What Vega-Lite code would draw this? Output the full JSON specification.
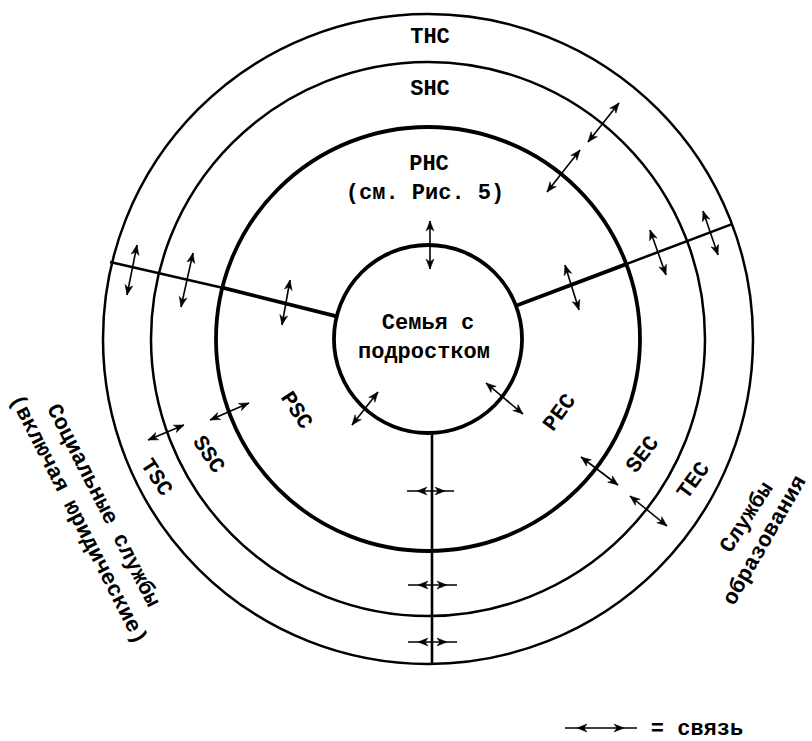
{
  "$schema": "https://vega.github.io/schema/vega-lite/v6.json",
  "width": 812,
  "height": 741,
  "padding": 0,
  "autosize": {"type": "none"},
  "background": "white",
  "config": {"view": {"stroke": null}},
  "datasets": {
    "rings": [
      {"ring": "family", "r": 94},
      {"ring": "PHC", "r": 212},
      {"ring": "SHC", "r": 277},
      {"ring": "THC", "r": 325}
    ],
    "lines": [
      {"segment": "left-inner", "x1": -91.2, "y1": 22.7, "x2": -205.7, "y2": 51.3},
      {"segment": "left-outer", "x1": -205.7, "y1": 51.3, "x2": -318, "y2": 77},
      {"segment": "right-inner", "x1": 87.9, "y1": 33.2, "x2": 198.3, "y2": 74.9},
      {"segment": "right-outer", "x1": 198.3, "y1": 74.9, "x2": 304, "y2": 114.9},
      {"segment": "bottom", "x1": 4, "y1": -93, "x2": 4, "y2": -325}
    ],
    "arrows": [
      {"id": 1, "x1": 2, "y1": 118, "x2": 2, "y2": 70, "hx1": 2, "hy1": 118, "hx2": 2, "hy2": 70, "a1": 0, "a2": 180},
      {"id": 2, "x1": 119, "y1": 147, "x2": 152, "y2": 189, "hx1": 119, "hy1": 147, "hx2": 152, "hy2": 189, "a1": 218.2, "a2": 38.2},
      {"id": 3, "x1": 160, "y1": 197, "x2": 191, "y2": 236, "hx1": 160, "hy1": 197, "hx2": 191, "hy2": 236, "a1": 218.5, "a2": 38.5},
      {"id": 4, "x1": -291, "y1": 94, "x2": -301, "y2": 44, "hx1": -291, "hy1": 94, "hx2": -301, "hy2": 44, "a1": 11.3, "a2": 191.3},
      {"id": 5, "x1": -235, "y1": 86, "x2": -247, "y2": 32, "hx1": -235, "hy1": 86, "hx2": -247, "hy2": 32, "a1": 12.5, "a2": 192.5},
      {"id": 6, "x1": -138, "y1": 59, "x2": -146, "y2": 14, "hx1": -138, "hy1": 59, "hx2": -146, "hy2": 14, "a1": 10.1, "a2": 190.1},
      {"id": 7, "x1": 137, "y1": 74, "x2": 151, "y2": 29, "hx1": 137, "hy1": 74, "hx2": 151, "hy2": 29, "a1": 342.7, "a2": 162.7},
      {"id": 8, "x1": 222, "y1": 109, "x2": 238, "y2": 64, "hx1": 222, "hy1": 109, "hx2": 238, "hy2": 64, "a1": 340.4, "a2": 160.4},
      {"id": 9, "x1": 275, "y1": 128, "x2": 290, "y2": 84, "hx1": 275, "hy1": 128, "hx2": 290, "hy2": 84, "a1": 341.2, "a2": 161.2},
      {"id": 10, "x1": -50, "y1": -53, "x2": -76, "y2": -86, "hx1": -50, "hy1": -53, "hx2": -76, "hy2": -86, "a1": 38.2, "a2": 218.2},
      {"id": 11, "x1": 58, "y1": -44, "x2": 95, "y2": -75, "hx1": 58, "hy1": -44, "hx2": 95, "hy2": -75, "a1": 310, "a2": 130},
      {"id": 12, "x1": -218, "y1": -81, "x2": -179, "y2": -64, "hx1": -218, "hy1": -81, "hx2": -179, "hy2": -64, "a1": 246.4, "a2": 66.4},
      {"id": 13, "x1": -280, "y1": -101, "x2": -244, "y2": -86, "hx1": -280, "hy1": -101, "hx2": -244, "hy2": -86, "a1": 247.4, "a2": 67.4},
      {"id": 14, "x1": 153, "y1": -118, "x2": 190, "y2": -146, "hx1": 153, "hy1": -118, "hx2": 190, "hy2": -146, "a1": 307.1, "a2": 127.1},
      {"id": 15, "x1": 202, "y1": -157, "x2": 239, "y2": -187, "hx1": 202, "hy1": -157, "hx2": 239, "hy2": -187, "a1": 309, "a2": 129},
      {"id": 16, "x1": -21, "y1": -152, "x2": 26, "y2": -152, "hx1": -11, "hy1": -152, "hx2": 17, "hy2": -152, "a1": 270, "a2": 90},
      {"id": 17, "x1": -20, "y1": -246, "x2": 29, "y2": -246, "hx1": -10, "hy1": -246, "hx2": 19, "hy2": -246, "a1": 270, "a2": 90},
      {"id": 18, "x1": -20, "y1": -303, "x2": 29, "y2": -303, "hx1": -10, "hy1": -303, "hx2": 19, "hy2": -303, "a1": 270, "a2": 90},
      {"id": 19, "x1": 137, "y1": -389, "x2": 209, "y2": -389, "hx1": 149, "hy1": -389, "hx2": 196, "hy2": -389, "a1": 270, "a2": 90}
    ],
    "labels": [
      {"text": "THC", "x": 2, "y": 303, "angle": 0},
      {"text": "SHC", "x": 2, "y": 251, "angle": 0},
      {"text": "PHC", "x": 1, "y": 176, "angle": 0},
      {"text": "(см. Рис. 5)", "x": -3, "y": 147, "angle": 0},
      {"text": "Семья с", "x": 0, "y": 17, "angle": 0},
      {"text": "подростком", "x": -4, "y": -12, "angle": 0},
      {"text": "PSC", "x": -131, "y": -71, "angle": 57},
      {"text": "SSC", "x": -219, "y": -115, "angle": 56},
      {"text": "TSC", "x": -271, "y": -138, "angle": 57},
      {"text": "PEC", "x": 131, "y": -73, "angle": 306},
      {"text": "SEC", "x": 214, "y": -115, "angle": 307},
      {"text": "TEC", "x": 265, "y": -141, "angle": 306},
      {"text": "Социальные службы", "x": -324, "y": -166, "angle": 63},
      {"text": "(включая юридические)", "x": -349, "y": -180, "angle": 63},
      {"text": "Службы", "x": 318, "y": -178, "angle": 303},
      {"text": "образования", "x": 336, "y": -201, "angle": 300},
      {"text": "= связь", "x": 269, "y": -389, "angle": 0}
    ]
  },
  "layer": [
    {
      "data": {"name": "rings"},
      "transform": [{"filter": {"field": "ring", "oneOf": ["family", "PHC"]}}],
      "mark": {"type": "arc", "theta": 0, "theta2": 6.2832, "filled": false, "stroke": "black", "strokeWidth": 3.8},
      "encoding": {
        "x": {"datum": 0, "type": "quantitative", "scale": {"domain": [-428, 384], "nice": false, "zero": false}, "axis": null},
        "y": {"datum": 0, "type": "quantitative", "scale": {"domain": [-402, 339], "nice": false, "zero": false}, "axis": null},
        "radius": {"field": "r", "type": "quantitative", "stack": null, "scale": {"type": "linear", "domain": [0, 325], "range": [0, 325], "zero": true, "nice": false}}
      }
    },
    {
      "data": {"name": "rings"},
      "transform": [{"filter": {"field": "ring", "oneOf": ["SHC", "THC"]}}],
      "mark": {"type": "arc", "theta": 0, "theta2": 6.2832, "filled": false, "stroke": "black", "strokeWidth": 2.5},
      "encoding": {
        "x": {"datum": 0, "type": "quantitative", "scale": {"domain": [-428, 384], "nice": false, "zero": false}, "axis": null},
        "y": {"datum": 0, "type": "quantitative", "scale": {"domain": [-402, 339], "nice": false, "zero": false}, "axis": null},
        "radius": {"field": "r", "type": "quantitative", "stack": null, "scale": {"type": "linear", "domain": [0, 325], "range": [0, 325], "zero": true, "nice": false}}
      }
    },
    {
      "data": {"name": "lines"},
      "transform": [{"filter": {"field": "segment", "oneOf": ["left-inner", "right-inner"]}}],
      "mark": {"type": "rule", "color": "black", "strokeWidth": 3.8},
      "encoding": {
        "x": {"field": "x1", "type": "quantitative", "axis": null},
        "y": {"field": "y1", "type": "quantitative", "axis": null},
        "x2": {"field": "x2"},
        "y2": {"field": "y2"}
      }
    },
    {
      "data": {"name": "lines"},
      "transform": [{"filter": {"field": "segment", "oneOf": ["left-outer", "right-outer", "bottom"]}}],
      "mark": {"type": "rule", "color": "black", "strokeWidth": 2.6},
      "encoding": {
        "x": {"field": "x1", "type": "quantitative", "axis": null},
        "y": {"field": "y1", "type": "quantitative", "axis": null},
        "x2": {"field": "x2"},
        "y2": {"field": "y2"}
      }
    },
    {
      "data": {"name": "arrows"},
      "mark": {"type": "rule", "color": "black", "strokeWidth": 1.6},
      "encoding": {
        "x": {"field": "x1", "type": "quantitative", "axis": null},
        "y": {"field": "y1", "type": "quantitative", "axis": null},
        "x2": {"field": "x2"},
        "y2": {"field": "y2"}
      }
    },
    {
      "data": {"name": "arrows"},
      "mark": {"type": "point", "shape": "M0,0L0.75,1.9L0,1.35L-0.75,1.9Z", "filled": true, "color": "black", "opacity": 1, "size": 110, "strokeWidth": 0.5, "stroke": "black"},
      "encoding": {
        "x": {"field": "hx2", "type": "quantitative", "axis": null},
        "y": {"field": "hy2", "type": "quantitative", "axis": null},
        "angle": {"field": "a2", "type": "quantitative", "scale": {"type": "linear", "domain": [0, 360], "range": [0, 360], "zero": true, "nice": false}}
      }
    },
    {
      "data": {"name": "arrows"},
      "mark": {"type": "point", "shape": "M0,0L0.75,1.9L0,1.35L-0.75,1.9Z", "filled": true, "color": "black", "opacity": 1, "size": 110, "strokeWidth": 0.5, "stroke": "black"},
      "encoding": {
        "x": {"field": "hx1", "type": "quantitative", "axis": null},
        "y": {"field": "hy1", "type": "quantitative", "axis": null},
        "angle": {"field": "a1", "type": "quantitative", "scale": {"type": "linear", "domain": [0, 360], "range": [0, 360], "zero": true, "nice": false}}
      }
    },
    {
      "data": {"name": "labels"},
      "mark": {"type": "text", "font": "Liberation Mono", "fontWeight": "bold", "fontSize": 22, "align": "center", "baseline": "middle", "color": "black"},
      "encoding": {
        "x": {"field": "x", "type": "quantitative", "axis": null},
        "y": {"field": "y", "type": "quantitative", "axis": null},
        "text": {"field": "text", "type": "nominal"},
        "angle": {"field": "angle", "type": "quantitative", "scale": {"type": "linear", "domain": [0, 360], "range": [0, 360], "zero": true, "nice": false}}
      }
    }
  ]
}
